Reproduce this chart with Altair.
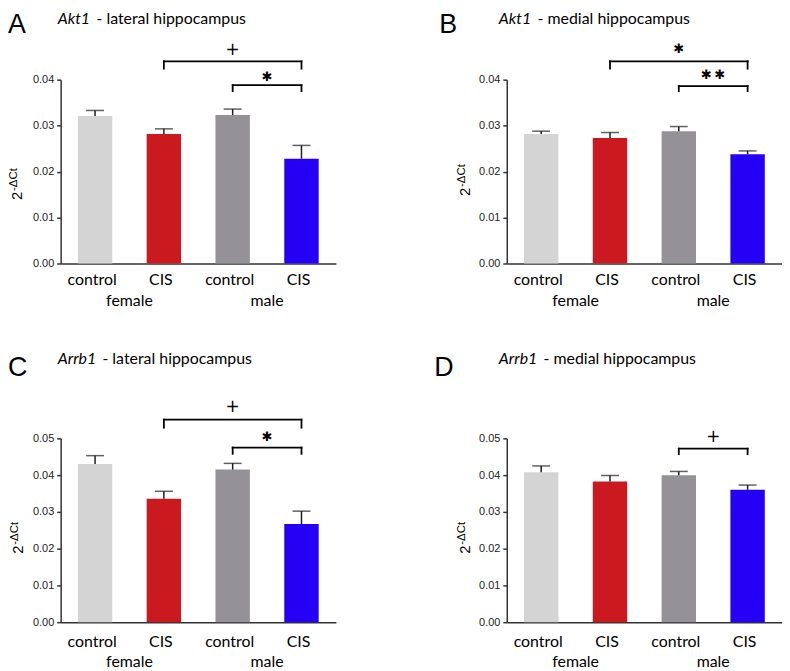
import altair as alt
import pandas as pd

# ---------------- data ----------------
categories = ["female control", "female CIS", "male control", "male CIS"]
bar_colors = ["#d4d4d4", "#cb1a1f", "#949296", "#2600f5"]
sex_labels = ["female", "male"]
sex_anchor = ["female control", "male control"]

letters = ["A", "B", "C", "D"]
genes = ["Akt1", "Akt1", "Arrb1", "Arrb1"]
regions = ["- lateral hippocampus", "- medial hippocampus",
           "- lateral hippocampus", "- medial hippocampus"]

means_A = [0.0321, 0.0282, 0.0323, 0.0228]
sem_A = [0.0012, 0.0011, 0.0013, 0.0029]
means_B = [0.0282, 0.0273, 0.0288, 0.0238]
sem_B = [0.0006, 0.0012, 0.0010, 0.0007]
means_C = [0.0430, 0.0336, 0.0415, 0.0267]
sem_C = [0.0023, 0.0020, 0.0017, 0.0035]
means_D = [0.0408, 0.0383, 0.0400, 0.0360]
sem_D = [0.0017, 0.0016, 0.0010, 0.0013]

ticks_AB = [0.00, 0.01, 0.02, 0.03, 0.04]
ticks_CD = [0.00, 0.01, 0.02, 0.03, 0.04, 0.05]

# brackets: (from, to, bar level, leg end)
brackets_A = [("female CIS", "male CIS", 0.0440, 0.0424),
              ("male control", "male CIS", 0.0388, 0.0375)]
brackets_B = [("female CIS", "male CIS", 0.0440, 0.0424),
              ("male control", "male CIS", 0.0386, 0.0375)]
brackets_C = [("female CIS", "male CIS", 0.0551, 0.0529),
              ("male control", "male CIS", 0.0475, 0.0458)]
brackets_D = [("male control", "male CIS", 0.0472, 0.0457)]

# significance marks: (text, anchor bar, between anchor and next bar?, level, font size)
notes_A = [("+", "male control", False, 0.0464, 17),
           ("\u2731", "male control", True, 0.0405, 13)]
notes_B = [("\u2731", "male control", False, 0.0466, 13),
           ("\u2731\u2009\u2731", "male control", True, 0.0410, 13)]
notes_C = [("+", "male control", False, 0.0586, 17),
           ("\u2731", "male control", True, 0.0504, 13)]
notes_D = [("+", "male control", True, 0.0504, 17)]

# ---------------- style ----------------
W, H = 277, 185
STEP = W / 4.0
INK = "#1e1e1e"


def panel(k, means, sems, ymax, ticks, brackets, notes, lay):
    df = pd.DataFrame({"group": categories, "mean": means, "sem": sems})
    df["top"] = df["mean"] + df["sem"]

    xscale = alt.Scale(domain=categories, paddingInner=0.5, paddingOuter=0.25)
    xaxis = alt.Axis(title=None, labelExpr="split(datum.value, ' ')[1]",
                     labelAngle=0, ticks=False, labelFont="Lato",
                     labelFontSize=16, labelColor="black",
                     labelPadding=lay["xpad"], labelOffset=-3,
                     domainColor="#333333", domainWidth=1.5,
                     labelBaseline="top")
    yscale = alt.Scale(domain=[0, ymax], nice=False, zero=True)
    yaxis = alt.Axis(title=None, values=ticks, format=".2f", grid=False,
                     labelFont="Liberation Sans", labelFontSize=11,
                     labelColor="#222222", tickSize=4, tickWidth=1.5,
                     tickColor="#333333", domainColor="#333333",
                     domainWidth=1.5, labelPadding=3)

    def X(field="group"):
        return alt.X(f"{field}:N", scale=xscale, axis=xaxis)

    def Y(field):
        return alt.Y(f"{field}:Q", scale=yscale, axis=yaxis)

    base = alt.Chart(df)
    bars = base.mark_bar().encode(
        x=X(), y=Y("mean"),
        color=alt.Color("group:N", scale=alt.Scale(domain=categories, range=bar_colors), legend=None),
    )
    err = base.mark_rule(color=INK, strokeWidth=1.5).encode(x=X(), y=Y("mean"), y2="top:Q")
    cap = base.mark_tick(color=INK, thickness=1.5, size=18).encode(x=X(), y=Y("top"))

    bdf = pd.DataFrame(brackets, columns=["x1", "x2", "yb", "yl"])
    hbar = alt.Chart(bdf).mark_rule(color="black", strokeWidth=1.8, strokeCap="square").encode(
        x=X("x1"), x2="x2:N", y=Y("yb"))
    legs_df = pd.concat([
        bdf[["x1", "yb", "yl"]].rename(columns={"x1": "xl"}),
        bdf[["x2", "yb", "yl"]].rename(columns={"x2": "xl"}),
    ])
    legs = alt.Chart(legs_df).mark_rule(color="black", strokeWidth=1.8, strokeCap="square").encode(
        x=X("xl"), y=Y("yb"), y2="yl:Q")

    ndf = pd.DataFrame(notes, columns=["txt", "anchor", "mid", "lvl", "fs"])
    note_center = alt.Chart(ndf[~ndf["mid"]]).mark_text(
        font="DejaVu Sans", color="black", baseline="middle").encode(
        x=X("anchor"), y=Y("lvl"), text="txt:N", size=alt.Size("fs:Q", scale=None))
    note_mid = alt.Chart(ndf[ndf["mid"]]).mark_text(
        font="DejaVu Sans", color="black", baseline="middle", dx=STEP / 2).encode(
        x=X("anchor"), y=Y("lvl"), text="txt:N", size=alt.Size("fs:Q", scale=None))

    sdf = pd.DataFrame({"group": sex_anchor, "sex": sex_labels})
    sex = alt.Chart(sdf).mark_text(font="Lato", fontSize=16, color="black",
                                   baseline="alphabetic", dx=STEP / 2).encode(
        x=X(), y=alt.value(H + lay["sexdy"]), text="sex:N")

    one = pd.DataFrame({"letter": [letters[k]], "gene": [genes[k]], "region": [regions[k]],
                        "two": ["2"], "sup": ["-\u0394Ct"]})
    tb = alt.Chart(one)
    letter = tb.mark_text(font="Liberation Sans", fontSize=27, color="black", align="left",
                          baseline="alphabetic").encode(
        x=alt.value(lay["lx"]), y=alt.value(lay["ly"]), text="letter:N")
    gene = tb.mark_text(font="Lato", fontSize=16, fontStyle="italic", color="black",
                        align="left", baseline="alphabetic").encode(
        x=alt.value(lay["tx"]), y=alt.value(lay["ty"]), text="gene:N")
    reg = tb.mark_text(font="Lato", fontSize=16, color="black", align="left",
                       baseline="alphabetic").encode(
        x=alt.value(lay["tx"] + lay["gw"]), y=alt.value(lay["ty"]), text="region:N")
    two = tb.mark_text(font="Liberation Sans", fontSize=15, color="black", angle=270,
                       align="center", baseline="alphabetic").encode(
        x=alt.value(lay["yx"]), y=alt.value(lay["y2"]), text="two:N")
    sup = tb.mark_text(font="Liberation Sans", fontSize=11.5, color="black", angle=270,
                       align="left", baseline="alphabetic").encode(
        x=alt.value(lay["yx"] - 5), y=alt.value(lay["y2"] - 5), text="sup:N")

    return alt.layer(bars, err, cap, hbar, legs, note_center, note_mid, sex,
                     letter, gene, reg, two, sup).properties(width=W, height=H)


lay_A = dict(xpad=8, sexdy=42.7, lx=-53, ly=-47, tx=-3, ty=-56.2, gw=39, yx=-39, y2=117)
lay_B = dict(xpad=8, sexdy=42.7, lx=-68, ly=-47, tx=-8, ty=-56.2, gw=39, yx=-37, y2=113)
lay_C = dict(xpad=11.5, sexdy=44.7, lx=-53, ly=-63, tx=-3, ty=-75.3, gw=45, yx=-38, y2=112)
lay_D = dict(xpad=11.5, sexdy=44.7, lx=-73, ly=-63, tx=-8, ty=-75.3, gw=45, yx=-37, y2=112)

pA = panel(0, means_A, sem_A, 0.04, ticks_AB, brackets_A, notes_A, lay_A)
pB = panel(1, means_B, sem_B, 0.04, ticks_AB, brackets_B, notes_B, lay_B)
pC = panel(2, means_C, sem_C, 0.05, ticks_CD, brackets_C, notes_C, lay_C)
pD = panel(3, means_D, sem_D, 0.05, ticks_CD, brackets_D, notes_D, lay_D)

chart = alt.concat(
    pA, pB, pC, pD, columns=2,
    spacing=alt.RowColnumber(row=176, column=172),
    bounds="flush",
).properties(padding=0).configure_view(stroke=None)

chart.save("out.html", embed_options={"renderer": "svg", "actions": False})
